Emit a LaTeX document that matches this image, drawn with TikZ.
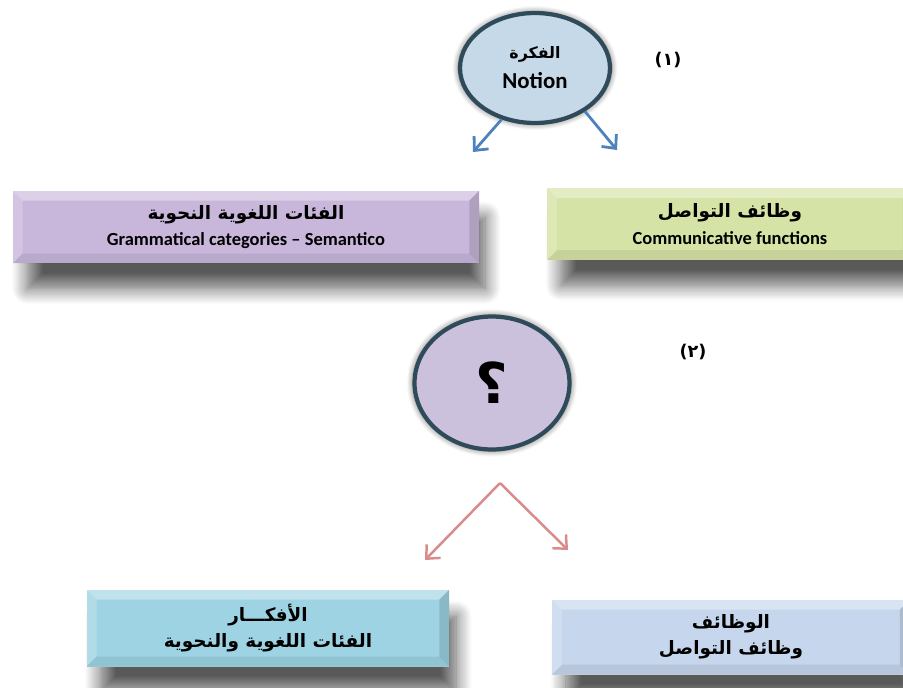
\documentclass[tikz,border=0pt]{standalone}
\usepackage{fontspec}
\setmainfont{Carlito}
\newfontfamily\arabicfont[Script=Arabic]{DejaVu Sans}
\TeXXeTstate=1
\usetikzlibrary{arrows.meta,shapes.geometric,shadows.blur}

\definecolor{notionfill}{HTML}{C6D9E8}
\definecolor{askfill}{HTML}{CCC1DD}
\definecolor{rimcol}{HTML}{2F4B5A}
\definecolor{purplebox}{HTML}{C8B7DB}
\definecolor{greenbox}{HTML}{D6E3A6}
\definecolor{cyanbox}{HTML}{9DD3E2}
\definecolor{steelbox}{HTML}{C6D6EC}
\definecolor{bluearr}{HTML}{4F81BD}
\definecolor{redarr}{HTML}{DA8A8A}

% bevelled edges of the boxes
\newcommand{\bevelrim}{%
  \coordinate (bnw) at (path picture bounding box.north west);
  \coordinate (bne) at (path picture bounding box.north east);
  \coordinate (bsw) at (path picture bounding box.south west);
  \coordinate (bse) at (path picture bounding box.south east);
  \fill[white, opacity=0.35] (bnw) -- (bne) -- ([shift={(-0.2cm,-0.2cm)}]bne) -- ([shift={(0.2cm,-0.2cm)}]bnw) -- cycle;
  \fill[white, opacity=0.2] (bnw) -- (bsw) -- ([shift={(0.2cm,0.2cm)}]bsw) -- ([shift={(0.2cm,-0.2cm)}]bnw) -- cycle;
  \fill[black, opacity=0.07] (bsw) -- (bse) -- ([shift={(-0.2cm,0.2cm)}]bse) -- ([shift={(0.2cm,0.2cm)}]bsw) -- cycle;
  \fill[black, opacity=0.12] (bne) -- (bse) -- ([shift={(-0.2cm,0.2cm)}]bse) -- ([shift={(-0.2cm,-0.2cm)}]bne) -- cycle;
}
\newcommand{\ar}[1]{{\arabicfont\bfseries\beginR #1\endR}}

\tikzset{
  bevelbox/.style={rectangle, minimum height=1.46cm, align=center, font=\fontsize{10.5}{15}\selectfont\bfseries,
    blur shadow={shadow xshift=6pt, shadow yshift=-15pt, shadow scale=0.98, shadow blur radius=9pt, shadow blur steps=14, shadow opacity=65},
    path picture={\bevelrim}},
  bubble/.style={ellipse, draw=rimcol, line width=2.4pt, align=center,
    blur shadow={shadow xshift=0pt, shadow yshift=0pt, shadow scale=1.03, shadow blur radius=3pt, shadow blur steps=8, shadow opacity=50}},
  bluearrow/.style={-{Straight Barb[length=6pt,width=11pt]}, bluearr, line width=1.6pt},
  redarrow/.style={-{Straight Barb[length=6pt,width=11pt]}, redarr, line width=1.4pt},
  stepnum/.style={font=\arabicfont\bfseries\fontsize{10}{12}\selectfont}
}

\begin{document}
\begin{tikzpicture}[x=0.02cm, y=-0.02cm]
  \useasboundingbox (0,0) rectangle (903,687);

  % first step: the notion
  \node[bubble, fill=notionfill, minimum width=3cm, minimum height=2.2cm, font=\fontsize{13}{17}\selectfont\bfseries] (notion) at (535,68)
    {{\arabicfont\fontsize{9}{11}\selectfont\beginR الفكرة\endR}\\Notion};
  \node[stepnum] (one) at (668,60) {(١)};

  % categories and functions
  \node[bevelbox, fill=purplebox, minimum width=9.34cm] (cat) at (246,227)
    {\ar{الفئات اللغوية النحوية}\\Grammatical categories – Semantico};
  \node[bevelbox, fill=greenbox, minimum width=7.32cm, minimum height=1.44cm] (fun) at (730,224)
    {\ar{وظائف التواصل}\\Communicative functions};

  \coordinate (tipL) at (473,152);
  \coordinate (tipR) at (617,150);
  \draw[bluearrow] (notion.-123) -- (tipL);
  \draw[bluearrow] (notion.-41) -- (tipR);

  % second step: the question
  \node[bubble, fill=askfill, minimum width=3.1cm, minimum height=2.66cm, font=\arabicfont\bfseries\fontsize{32}{32}\selectfont] (ask) at (492,383) {؟};
  \node[stepnum] (two) at (693,352) {(٢)};

  \coordinate (apex) at (500,483);
  \coordinate (tipA) at (425,560);
  \coordinate (tipB) at (568,550);
  \draw[redarrow] (apex) -- (tipA);
  \draw[redarrow] (apex) -- (tipB);

  % ideas and functions
  \node[bevelbox, fill=cyanbox, minimum width=7.26cm, minimum height=1.54cm] (ideas) at (268,628)
    {\ar{الأفكـــار}\\\ar{الفئات اللغوية والنحوية}};
  \node[bevelbox, fill=steelbox, minimum width=7.16cm, minimum height=1.5cm] (roles) at (731,637)
    {\ar{الوظائف}\\\ar{وظائف التواصل}};
\end{tikzpicture}
\end{document}
